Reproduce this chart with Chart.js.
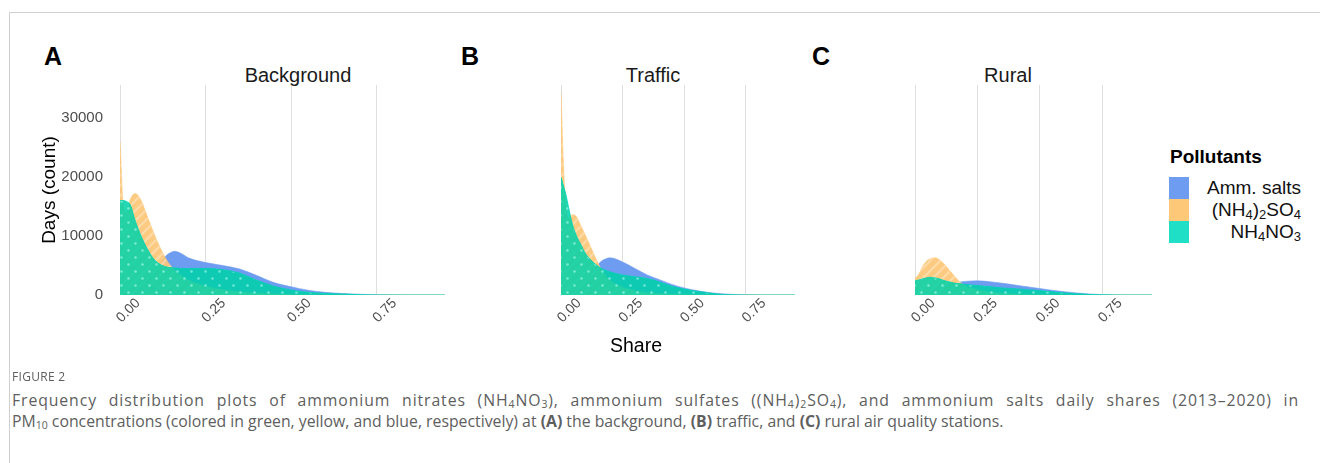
<!DOCTYPE html>
<html>
<head>
<meta charset="utf-8">
<script src="https://cdn.jsdelivr.net/npm/chart.js@4.4.1/dist/chart.umd.min.js"></script>
<style>
  body { margin: 0; background: #fff; font-family: "Liberation Sans", Arial, sans-serif; }
  #page { position: relative; width: 1320px; height: 463px; overflow: hidden; }
  .frame-top { position: absolute; left: 9px; top: 12px; width: 1311px; height: 1px; background: #d0d0d0; }
  .frame-left { position: absolute; left: 9px; top: 12px; width: 1px; height: 451px; background: #d0d0d0; }
  canvas { position: absolute; }
  .letter { position: absolute; font-weight: bold; font-size: 25px; color: #000; }
  .strip { position: absolute; font-size: 20px; color: #1a1a1a; transform: translateX(-50%); }
  .xtitle { position: absolute; font-size: 19.5px; color: #000; transform: translateX(-50%); }
  #legend { position: absolute; left: 1169px; top: 146px; width: 132px; }
  #legend .ttl { font-weight: bold; font-size: 19px; margin-left: 1px; }
  .key { position: absolute; left: 0; width: 20px; height: 22px; }
  .lab { position: absolute; right: 0; font-size: 19px; color: #111; line-height: 22px; }
  .lab sub { font-size: 13px; vertical-align: -3px; line-height: 0; }
  .cap { position: absolute; left: 12px; font-family: "Open Sans", sans-serif; color: #5e5e5e; white-space: nowrap; }
  .cap sub { font-size: 10.5px; vertical-align: -2px; line-height: 0; }
  .just { width: 1287px; text-align: justify; text-align-last: justify; white-space: normal; letter-spacing: 0.9px; }
</style>
</head>
<body>
<div id="page">
  <div class="frame-top"></div>
  <div class="frame-left"></div>

  <div class="letter" style="left:44px;top:42px">A</div>
  <div class="letter" style="left:461px;top:42px">B</div>
  <div class="letter" style="left:812px;top:42px">C</div>

  <div class="strip" style="left:298px;top:64px">Background</div>
  <div class="strip" style="left:653px;top:64px">Traffic</div>
  <div class="strip" style="left:1008px;top:64px">Rural</div>

  <canvas id="chartA"></canvas>
  <canvas id="chartB"></canvas>
  <canvas id="chartC"></canvas>

  <div class="xtitle" style="left:636px;top:334px">Share</div>

  <div id="legend">
    <div class="ttl">Pollutants</div>
    <div class="key" style="top:31px;background:#6e9cf0"></div>
    <div class="key" style="top:53px;background:#fdc878"></div>
    <div class="key" style="top:75px;background:#1fe0c6"></div>
    <div class="lab" style="top:31px">Amm. salts</div>
    <div class="lab" style="top:53px">(NH<sub>4</sub>)<sub>2</sub>SO<sub>4</sub></div>
    <div class="lab" style="top:75px">NH<sub>4</sub>NO<sub>3</sub></div>
  </div>

  <div class="cap" style="top:368px;font-size:12px;letter-spacing:0.3px">FIGURE 2</div>
  <div class="cap just" style="top:389px;font-size:15.8px">Frequency distribution plots of ammonium nitrates (NH<sub>4</sub>NO<sub>3</sub>), ammonium sulfates ((NH<sub>4</sub>)<sub>2</sub>SO<sub>4</sub>), and ammonium salts daily shares (2013–2020) in</div>
  <div class="cap" style="top:410px;font-size:15.8px">PM<sub>10</sub> concentrations (colored in green, yellow, and blue, respectively) at <b>(A)</b> the background, <b>(B)</b> traffic, and <b>(C)</b> rural air quality stations.</div>
</div>

<script>
// share of PM10 (x grid shared by all curves)
const shares = [0, 0.01, 0.02, 0.03, 0.045, 0.06, 0.08, 0.10, 0.12, 0.14, 0.16, 0.18, 0.20, 0.25, 0.30,
                0.35, 0.40, 0.45, 0.50, 0.55, 0.60, 0.65, 0.70, 0.75, 0.80, 0.85, 0.90, 0.95];

// days (count) - Background
const bgNitrate = [16000, 16000, 15800, 15300, 12500, 10200, 7800, 6000, 5100, 4700, 4600, 4500, 4500, 4500, 4300,
                   3700, 2500, 1500, 850, 450, 250, 150, 60, 20, 5, 0, 0, 0];
const bgSulfate = [26000, 15000, 14000, 16200, 17200, 16200, 13300, 10300, 7700, 5600, 4200, 3200, 2500, 1500, 900,
                   500, 300, 150, 80, 40, 20, 0, 0, 0, 0, 0, 0, 0];
const bgSalts = [0, 200, 500, 900, 1500, 2200, 3300, 4500, 5800, 6900, 7400, 7000, 6300, 5500, 5000,
                 4400, 3300, 2100, 1400, 800, 450, 250, 120, 50, 20, 5, 0, 0];

// Traffic
const trNitrate = [20000, 18500, 17000, 15000, 12200, 10300, 8600, 7000, 6000, 5200, 4600, 4200, 3900, 3400, 3100,
                   2800, 2200, 1500, 1000, 650, 350, 100, 30, 0, 0, 0, 0, 0];
const trSulfate = [34500, 22000, 15000, 13000, 13600, 13400, 11800, 10000, 8200, 6300, 4600, 3300, 2400, 1300, 700,
                   400, 220, 120, 60, 30, 10, 0, 0, 0, 0, 0, 0, 0];
const trSalts = [0, 100, 200, 400, 700, 1000, 1600, 2500, 3500, 4600, 5600, 6100, 6300, 5600, 4500,
                 3400, 2600, 1800, 1200, 750, 420, 220, 100, 40, 10, 0, 0, 0];

// Rural
const ruNitrate = [2400, 2500, 2600, 2750, 2900, 3000, 2900, 2700, 2400, 2200, 2000, 1900, 1800, 1600, 1400,
                   1200, 1050, 900, 750, 550, 350, 200, 90, 30, 10, 0, 0, 0];
const ruSulfate = [2800, 3200, 3900, 4800, 5700, 6100, 6300, 5900, 5100, 4100, 3100, 2200, 1600, 900, 500,
                   300, 150, 80, 40, 20, 0, 0, 0, 0, 0, 0, 0, 0];
const ruSalts = [0, 100, 200, 300, 500, 700, 1000, 1300, 1600, 1850, 2050, 2200, 2300, 2400, 2250,
                 2000, 1700, 1400, 1100, 800, 550, 330, 160, 60, 20, 5, 0, 0];

const xTickValues = [0, 0.25, 0.5, 0.75];
const yTickValues = [0, 10000, 20000, 30000];

function stripes(base) {
  const c = document.createElement('canvas');
  c.width = 10; c.height = 10;
  const g = c.getContext('2d');
  g.fillStyle = base;
  g.fillRect(0, 0, 10, 10);
  g.strokeStyle = 'rgba(255,255,255,0.32)';
  g.lineWidth = 2;
  g.beginPath();
  g.moveTo(-2, 12); g.lineTo(12, -2);
  g.moveTo(-7, 7); g.lineTo(7, -7);
  g.moveTo(3, 17); g.lineTo(17, 3);
  g.stroke();
  return g.createPattern(c, 'repeat');
}

function dots(base) {
  const c = document.createElement('canvas');
  c.width = 14; c.height = 14;
  const g = c.getContext('2d');
  g.fillStyle = base;
  g.fillRect(0, 0, 14, 14);
  g.fillStyle = 'rgba(190,255,245,0.55)';
  g.beginPath(); g.arc(3.5, 3.5, 1.3, 0, Math.PI * 2); g.fill();
  g.beginPath(); g.arc(10.5, 10.5, 1.3, 0, Math.PI * 2); g.fill();
  return g.createPattern(c, 'repeat');
}

const blueFill = 'rgb(110,156,240)';
const yellowFill = stripes('rgba(253,198,118,0.92)');
const greenFill = dots('rgba(0,210,168,0.86)');

function pts(vals) {
  return vals.map((v, i) => ({ x: shares[i], y: v }));
}

// plot area is 210px tall in every panel, top edge at page y = 85
function makeChart(id, pos, nitrate, sulfate, salts, showY) {
  const cv = document.getElementById(id);
  const padTop = 13;
  cv.style.left = pos.left + 'px';
  cv.style.top = (85 - padTop) + 'px';
  cv.width = pos.width;
  cv.height = pos.height;
  cv.style.width = pos.width + 'px';
  cv.style.height = pos.height + 'px';

  const ds = (label, vals, fill, border, order) => ({
    label: label,
    data: pts(vals),
    backgroundColor: fill,
    borderColor: border,
    borderWidth: 1,
    fill: 'origin',
    pointRadius: 0,
    cubicInterpolationMode: 'monotone',
    order: order
  });

  return new Chart(cv, {
    type: 'line',
    data: {
      datasets: [
        ds('NH4NO3', nitrate, greenFill, 'rgba(0,212,180,0.85)', 1),
        ds('(NH4)2SO4', sulfate, yellowFill, 'rgba(253,198,118,0.6)', 2),
        ds('Amm. salts', salts, blueFill, 'rgba(110,156,240,0.6)', 3)
      ]
    },
    options: {
      responsive: false,
      animation: false,
      events: [],
      layout: { padding: { left: pos.padLeft, right: pos.padRight, top: padTop, bottom: 0 } },
      plugins: { legend: { display: false }, tooltip: { enabled: false } },
      scales: {
        x: {
          type: 'linear',
          min: 0,
          max: 0.95,
          afterFit: s => { s.height = pos.height - padTop - 210; },
          afterBuildTicks: s => { s.ticks = xTickValues.map(v => ({ value: v })); },
          grid: { color: 'rgba(0,0,0,0.13)', drawTicks: false, lineWidth: 1 },
          border: { display: false },
          ticks: {
            minRotation: 45,
            maxRotation: 45,
            padding: 0,
            labelOffset: 18,
            color: '#4d4d4d',
            font: { size: 14, family: 'Liberation Sans' },
            callback: v => v.toFixed(2)
          }
        },
        y: {
          display: showY,
          min: 0,
          max: 35600,
          afterFit: s => { s.width = 86; },
          afterBuildTicks: s => { s.ticks = yTickValues.map(v => ({ value: v })); },
          grid: { display: false, drawTicks: true, tickLength: 14 },
          border: { display: false },
          title: {
            display: true,
            text: 'Days (count)',
            color: '#000',
            font: { size: 19, family: 'Liberation Sans' }
          },
          ticks: {
            padding: 3,
            color: '#4d4d4d',
            font: { size: 15, family: 'Liberation Sans' },
            callback: v => String(v)
          }
        }
      }
    }
  });
}

makeChart('chartA', { left: 34, width: 421, height: 300, padLeft: 0, padRight: 10 },
  bgNitrate, bgSulfate, bgSalts, true);
makeChart('chartB', { left: 445, width: 360, height: 300, padLeft: 30, padRight: 10 },
  trNitrate, trSulfate, trSalts, false);
makeChart('chartC', { left: 799, width: 363, height: 300, padLeft: 30, padRight: 10 },
  ruNitrate, ruSulfate, ruSalts, false);
</script>
</body>
</html>
